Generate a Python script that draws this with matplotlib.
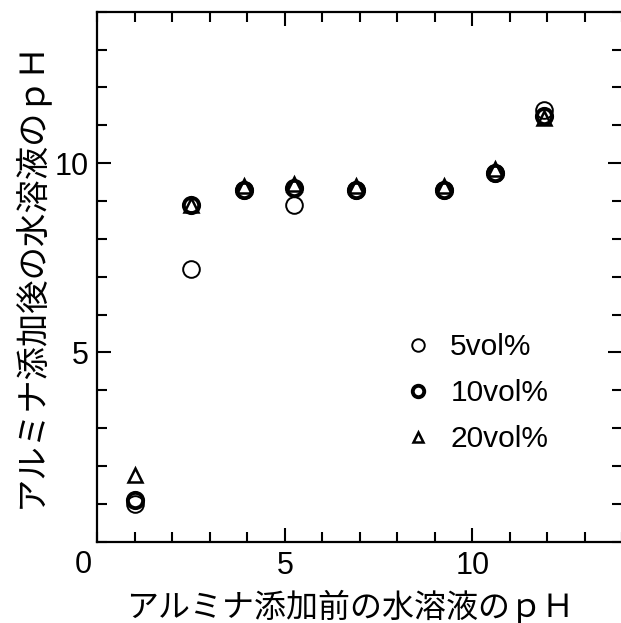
import matplotlib.pyplot as plt
from matplotlib.ticker import MultipleLocator

plt.rcParams['font.family'] = ['Liberation Sans', 'Noto Sans CJK JP']

# pH before / after adding alumina
ph_before = [1.0, 2.5, 3.9, 5.25, 6.9, 9.25, 10.6, 11.9]
ph_5vol = [1.0, 7.2, 9.3, 8.9, 9.3, 9.3, 9.75, 11.4]
ph_10vol = [1.1, 8.9, 9.3, 9.35, 9.3, 9.3, 9.75, 11.25]
ph_20vol = [1.75, 8.9, 9.4, 9.45, 9.4, 9.4, 9.85, 11.2]
labels = ['5vol%', '10vol%', '20vol%']

fig = plt.figure(figsize=(6.21, 6.23), dpi=100)
ax = fig.add_axes([0.157, 0.1305, 0.845, 0.8507])

ax.plot(ph_before, ph_5vol, linestyle='none', marker='o', ms=12,
        mfc='none', mec='black', mew=1.4, label=labels[0])
ax.plot(ph_before, ph_10vol, linestyle='none', marker='o', ms=11,
        mfc='none', mec='black', mew=2.8, label=labels[1])
ax.plot(ph_before, ph_20vol, linestyle='none', marker='^', ms=10,
        mfc='none', mec='black', mew=1.8, label=labels[2])

ax.set_xlim(0, 14)
ax.set_ylim(0, 14)
ax.xaxis.set_minor_locator(MultipleLocator(1))
ax.yaxis.set_minor_locator(MultipleLocator(1))
ax.set_xticks([5, 10])
ax.set_yticks([5, 10])
ax.tick_params(which='both', direction='in', top=True, right=True, width=1.5,
               labelsize=22)
ax.tick_params(which='major', length=10)
ax.tick_params(which='minor', length=7)
ax.tick_params(axis='x', pad=7)
ax.tick_params(axis='y', pad=6)
for s in ax.spines.values():
    s.set_linewidth(1.6)

# shared origin label
ax.annotate('0', xy=(0, 0), xycoords='axes fraction', xytext=(-14, -23),
            textcoords='offset pixels', ha='center', va='center', fontsize=22)

ax.set_xlabel('アルミナ添加前の水溶液のｐＨ', family='Noto Sans CJK JP', fontsize=23)
ax.set_ylabel('アルミナ添加後の水溶液のｐＨ', family='Noto Sans CJK JP', fontsize=24)
ax.xaxis.set_label_coords(0.482, -0.09)
ax.yaxis.set_label_coords(-0.095, 0.505)

ax.legend(loc='upper left', bbox_to_anchor=(0.583, 0.393), frameon=False,
          fontsize=21.5, borderpad=0, borderaxespad=0, handlelength=1.0,
          handletextpad=0.57, labelspacing=0.6, markerscale=0.75)

fig.savefig('out.png', dpi=100)
